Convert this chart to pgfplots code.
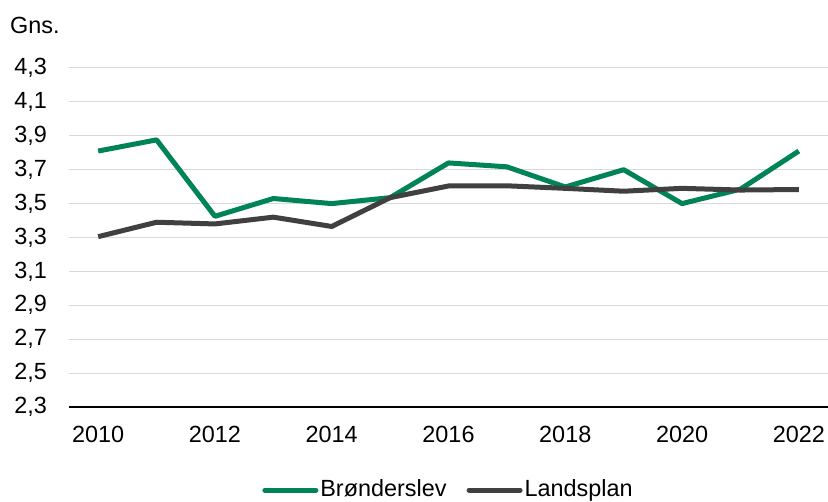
\documentclass[border=0pt]{standalone}
\usepackage{fontspec}
\setmainfont{Liberation Sans}
\usepackage{pgfplots}
\pgfplotsset{compat=1.18}
\definecolor{bgreen}{RGB}{0,132,87}
\definecolor{lgray}{RGB}{64,64,64}
\definecolor{gridc}{RGB}{217,217,217}
\begin{document}
\fontsize{23.5}{28}\selectfont
\begin{tikzpicture}
\useasboundingbox (-69bp,-95bp) rectangle (759bp,407bp);
\begin{axis}[
  at={(0,0)}, anchor=south west,
  scale only axis,
  width=759bp, height=339bp,
  xmin=2009.5, xmax=2022.5,
  ymin=2.3, ymax=4.3,
  xtick={2010,2012,...,2022},
  ytick={2.3,2.5,...,4.31},
  axis x line*=bottom,
  axis y line*=left,
  y axis line style={draw=none},
  x axis line style={black, line width=1.2pt, -},
  xtick style={draw=none},
  ytick style={draw=none},
  ymajorgrids,
  major grid style={gridc, line width=1pt},
  y tick label style={/pgf/number format/.cd, fixed, fixed zerofill, precision=1, use comma, /tikz/.cd},
  yticklabel style={anchor=east, inner sep=0pt, xshift=-22bp},
  xticklabel style={anchor=north, inner sep=0pt, yshift=-19bp},
  xticklabel={\pgfmathprintnumber[1000 sep={}]{\tick}},
  /pgf/number format/assume math mode=true,
  tick label style={font=\fontsize{23.5}{28}\selectfont},
  clip=false,
  legend style={at={(0.5,-0.245)}, anchor=center, draw=none, fill=none,
    legend columns=2, font=\fontsize{23.5}{28}\selectfont,
    /tikz/every even column/.append style={column sep=18bp},
    inner sep=0pt},
  legend image code/.code={\draw[#1, line cap=round] (-0.05cm,0cm) -- (1.75cm,0cm);},
]
\addplot[bgreen, line width=5bp, line join=round] coordinates {
(2010,3.81) (2011,3.876) (2012,3.425) (2013,3.53) (2014,3.50) (2015,3.535)
(2016,3.74) (2017,3.717) (2018,3.598) (2019,3.70) (2020,3.50) (2021,3.585) (2022,3.81)};
\addlegendentry{Brønderslev}
\addplot[lgray, line width=5bp, line join=round] coordinates {
(2010,3.305) (2011,3.39) (2012,3.38) (2013,3.42) (2014,3.365) (2015,3.535)
(2016,3.604) (2017,3.605) (2018,3.59) (2019,3.573) (2020,3.59) (2021,3.58) (2022,3.583)};
\addlegendentry{Landsplan}
\end{axis}
\node[anchor=west, inner sep=0pt] at (-59bp,382bp) {Gns.};
\end{tikzpicture}
\end{document}
